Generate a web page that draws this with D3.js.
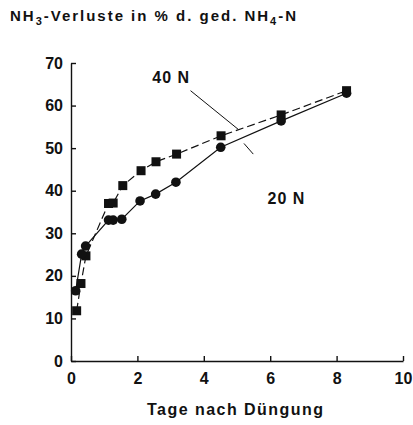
<!DOCTYPE html>
<html>
<head>
<meta charset="utf-8">
<script src="https://cdn.jsdelivr.net/npm/d3@7"></script>
<style>
  body { margin: 0; background: #fff; }
  text { font-family: "Liberation Sans", Arial, sans-serif; font-weight: bold; fill: #111; }
</style>
</head>
<body>
<div id="chart"></div>
<script>
// Data
var days40 = [0.17, 0.30, 0.45, 1.13, 1.27, 1.56, 2.11, 2.56, 3.18, 4.52, 6.33, 8.30];
var loss40 = [11.8, 18.2, 24.7, 37.0, 37.1, 41.2, 44.7, 46.8, 48.6, 52.9, 57.8, 63.5];
var days20 = [0.14, 0.32, 0.44, 1.13, 1.27, 1.53, 2.08, 2.55, 3.16, 4.51, 6.33, 8.30];
var loss20 = [16.5, 25.1, 27.0, 33.1, 33.1, 33.3, 37.6, 39.2, 42.0, 50.2, 56.4, 62.9];
var xTicks = [0, 2, 4, 6, 8, 10];
var yTicks = [0, 10, 20, 30, 40, 50, 60, 70];

var svgWidth = 413;
var svgHeight = 425;

var svg = d3.select("#chart")
  .append("svg")
  .attr("width", svgWidth)
  .attr("height", svgHeight);

var x = d3.scaleLinear().domain([0, 10]).range([71, 403]);
var y = d3.scaleLinear().domain([0, 70]).range([361, 63]);

// Axes with inward ticks
var xAxis = svg.append("g")
  .attr("transform", `translate(0, ${y(0)})`)
  .call(d3.axisBottom(x).tickValues(xTicks).tickSizeInner(-5).tickSizeOuter(0).tickPadding(14));

var yAxis = svg.append("g")
  .attr("transform", `translate(${x(0)}, 0)`)
  .call(d3.axisLeft(y).tickValues(yTicks).tickSizeInner(-5).tickSizeOuter(0).tickPadding(8));

[xAxis, yAxis].forEach(function(a) {
  a.selectAll("path, line").attr("stroke", "#111").attr("stroke-width", 1.4);
  a.selectAll("text")
    .style("font-size", "16px")
    .style("font-family", "'Liberation Sans', Arial, sans-serif")
    .style("font-weight", "bold")
    .attr("fill", "#111");
});
xAxis.selectAll("text").attr("dy", "0.55em");

// Lines
var series40 = days40.map((d, i) => ({x: d, y: loss40[i]}));
var series20 = days20.map((d, i) => ({x: d, y: loss20[i]}));

var line = d3.line().x(d => x(d.x)).y(d => y(d.y));

svg.append("path")
  .datum(series40)
  .attr("d", line)
  .attr("fill", "none")
  .attr("stroke", "#111")
  .attr("stroke-width", 1.2)
  .attr("stroke-dasharray", "8,4");

svg.append("path")
  .datum(series20)
  .attr("d", line)
  .attr("fill", "none")
  .attr("stroke", "#111")
  .attr("stroke-width", 1.2);

// Markers
svg.selectAll("rect.sq")
  .data(series40)
  .enter()
  .append("rect")
  .attr("class", "sq")
  .attr("x", d => x(d.x) - 4.5)
  .attr("y", d => y(d.y) - 4.5)
  .attr("width", 9)
  .attr("height", 9)
  .attr("fill", "#111");

svg.selectAll("circle")
  .data(series20)
  .enter()
  .append("circle")
  .attr("cx", d => x(d.x))
  .attr("cy", d => y(d.y))
  .attr("r", 4.8)
  .attr("fill", "#111");

// Leader lines for the labels
svg.append("line")
  .attr("x1", x(3.6)).attr("y1", y(63.5))
  .attr("x2", x(5.04)).attr("y2", y(54.4))
  .attr("stroke", "#111").attr("stroke-width", 1);
svg.append("line")
  .attr("x1", x(5.21)).attr("y1", y(51.1))
  .attr("x2", x(5.49)).attr("y2", y(48.6))
  .attr("stroke", "#111").attr("stroke-width", 1);

svg.append("text")
  .attr("x", x(2.45)).attr("y", y(65.2))
  .style("font-size", "16px")
  .style("letter-spacing", "1px")
  .text("40 N");

svg.append("text")
  .attr("x", x(5.92)).attr("y", y(36.9))
  .style("font-size", "16px")
  .style("letter-spacing", "1px")
  .text("20 N");

// Title with subscripts
var title = svg.append("text")
  .attr("x", 10).attr("y", 20.5)
  .style("font-size", "15px")
  .attr("textLength", 286)
  .attr("lengthAdjust", "spacing");
title.append("tspan").text("NH");
title.append("tspan").attr("dy", 4).style("font-size", "11px").text("3");
title.append("tspan").attr("dy", -4).text("-Verluste in % d. ged. NH");
title.append("tspan").attr("dy", 4).style("font-size", "11px").text("4");
title.append("tspan").attr("dy", -4).text("-N");

// X axis title
svg.append("text")
  .attr("x", 147).attr("y", 415)
  .style("font-size", "16px")
  .attr("textLength", 176)
  .attr("lengthAdjust", "spacing")
  .text("Tage nach Düngung");
</script>
</body>
</html>
